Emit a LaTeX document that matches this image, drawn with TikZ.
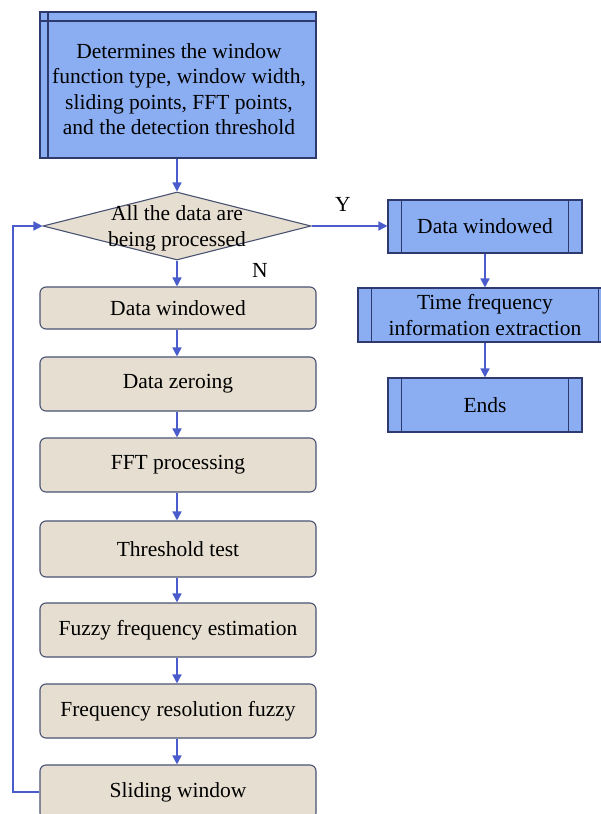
\documentclass[tikz,border=0pt]{standalone}
\usepackage{fontspec}
\setmainfont{Liberation Serif}
\newfontfamily\boxfont{Liberation Serif}
\usetikzlibrary{shapes.geometric,arrows.meta}

\definecolor{bluefill}{HTML}{8BAEF2}
\definecolor{bluedraw}{HTML}{2E3A6E}
\definecolor{beigefill}{HTML}{E6DFD1}
\definecolor{beigedraw}{HTML}{4A5272}
\definecolor{flowline}{HTML}{4A5CCB}

\tikzset{
  every node/.style={font=\boxfont\fontsize{21.5}{25.3}\selectfont, text=black},
  procbox/.style={draw=beigedraw, fill=beigefill, line width=1.1pt,
    rounded corners=6pt, minimum width=276pt, inner sep=0pt},
  sidebox/.style={draw=bluedraw, fill=bluefill, line width=1.1pt,
    inner sep=0pt, align=center,
    path picture={
      \draw[bluedraw, line width=1.1pt]
        ([xshift=13.5pt]path picture bounding box.north west) --
        ([xshift=13.5pt]path picture bounding box.south west)
        ([xshift=-13.5pt]path picture bounding box.north east) --
        ([xshift=-13.5pt]path picture bounding box.south east);
    }},
  headbox/.style={draw=bluedraw, fill=bluefill, line width=1.1pt,
    inner sep=0pt,
    path picture={
      \draw[bluedraw, line width=1.1pt]
        ([yshift=-9pt]path picture bounding box.north west) --
        ([yshift=-9pt]path picture bounding box.north east)
        ([xshift=8pt]path picture bounding box.north west) --
        ([xshift=8pt]path picture bounding box.south west);
    }},
  decision/.style={diamond, draw=beigedraw, fill=beigefill, line width=1.1pt,
    minimum width=268pt, minimum height=68pt, inner sep=0pt},
  flow/.style={draw=flowline, line width=1.5pt,
    -{Triangle[width=9pt,length=9pt]}},
  tag/.style={font=\boxfont\fontsize{21.5}{25.3}\selectfont}
}

\begin{document}
\begin{tikzpicture}[x=1pt, y=-1pt]
  \useasboundingbox (0,0) rectangle (601,814);
  \clip (0,0) rectangle (601,814);

  % parameter set-up
  \node[headbox, minimum width=276pt, minimum height=146pt] (head) at (178,85) {};
  \node[align=center, inner sep=0pt] (headtext) at (179,89)
    {Determines the window\\function type, window width,\\sliding points, FFT points,\\and the detection threshold};

  % loop test
  \node[decision] (dec) at (177,226) {};
  \node[align=center, inner sep=0pt] (dectext) at (177,228.5)
    {All the data are\\being processed};

  % processing chain
  \node[procbox, minimum height=42pt] (p1) at (178,308) {Data windowed};
  \node[procbox, minimum height=54pt] (p2) at (178,384) {Data zeroing};
  \node[procbox, minimum height=54pt] (p3) at (178,465) {FFT processing};
  \node[procbox, minimum height=56pt] (p4) at (178,549) {Threshold test};
  \node[procbox, minimum height=54pt] (p5) at (178,630) {Fuzzy frequency estimation};
  \node[procbox, minimum height=54pt] (p6) at (178,711) {Frequency resolution fuzzy};
  \node[procbox, minimum height=54pt] (p7) at (178,792) {Sliding window};

  % output branch
  \node[sidebox, minimum width=194pt, minimum height=53pt] (r1) at (485,226.5) {Data windowed};
  \node[sidebox, minimum width=254pt, minimum height=54pt] (r2) at (485,315)
    {Time frequency\\information extraction};
  \node[sidebox, minimum width=194pt, minimum height=54pt] (r3) at (485,405) {Ends};

  % connectors
  \draw[flow] (head.south -| dec.north) -- (dec.north);
  \draw[flow] (dec.east) -- (r1.west |- dec.east);
  \draw[flow] (dec.south) -- (p1.north -| dec.south);
  \draw[flow] (r1.south) -- (r2.north);
  \draw[flow] (r2.south) -- (r3.north);
  \draw[flow] (p1.south -| dec.south) -- (p2.north -| dec.south);
  \draw[flow] (p2.south -| dec.south) -- (p3.north -| dec.south);
  \draw[flow] (p3.south -| dec.south) -- (p4.north -| dec.south);
  \draw[flow] (p4.south -| dec.south) -- (p5.north -| dec.south);
  \draw[flow] (p5.south -| dec.south) -- (p6.north -| dec.south);
  \draw[flow] (p6.south -| dec.south) -- (p7.north -| dec.south);
  \coordinate (back) at (13,792);
  \draw[flow] (p7.west) -- (back) |- (dec.west);

  % branch labels
  \node[tag] (ylab) at (343,204) {Y};
  \node[tag] (nlab) at (260,270) {N};
\end{tikzpicture}
\end{document}
